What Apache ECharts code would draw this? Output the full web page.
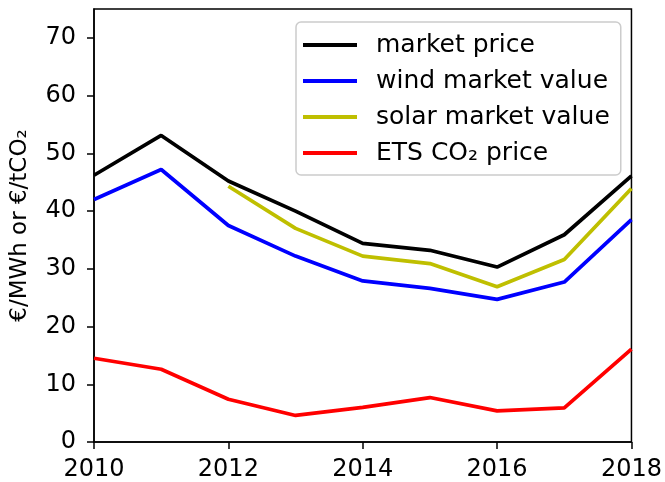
<!DOCTYPE html>
<html lang="en">
<head>
    <meta charset="UTF-8">
    <title>market values</title>
    <script src="https://cdn.jsdelivr.net/npm/echarts@6/dist/echarts.min.js"></script>
    <style>
        html, body {margin: 0; padding: 0; background: #fff;}
    </style>
</head>
<body>
<div id="main" style="width: 665px;height:482px;"></div>
<script>
    var years = [2010, 2011, 2012, 2013, 2014, 2015, 2016, 2017, 2018];
    var marketPrice = [46.2, 53.1, 45.2, 40.0, 34.4, 33.2, 30.3, 35.9, 46.1];
    var windValue = [42.0, 47.2, 37.5, 32.2, 27.9, 26.6, 24.7, 27.7, 38.5];
    var solarValue = [null, null, 44.3, 37.0, 32.2, 30.9, 26.9, 31.6, 43.9];
    var etsPrice = [14.5, 12.6, 7.4, 4.6, 6.0, 7.7, 5.4, 5.9, 16.1];
    var seriesNames = ['market price', 'wind market value', 'solar market value', 'ETS CO₂ price'];

    function pairs(vals) {
        var out = [];
        for (var i = 0; i < years.length; i++) {
            if (vals[i] !== null) out.push([years[i], vals[i]]);
        }
        return out;
    }

    function line(name, color, vals) {
        return {
            name: name,
            type: 'line',
            data: pairs(vals),
            symbol: 'none',
            lineStyle: {color: color, width: 3.7},
            itemStyle: {color: color},
            animation: false
        };
    }

    var font = 'DejaVu Sans';
    var myChart = echarts.init(document.getElementById('main'));
    var option = {
        animation: false,
        grid: {
            left: 94, right: 33, top: 9, bottom: 39,
            show: true, borderColor: '#000', borderWidth: 1.5
        },
        legend: {
            left: 296, top: 22,
            orient: 'vertical',
            data: seriesNames,
            icon: 'rect',
            itemWidth: 54, itemHeight: 4,
            itemGap: 10,
            padding: [10, 11, 9, 7],
            borderColor: '#ccc', borderWidth: 1.5, borderRadius: 5,
            backgroundColor: '#fff',
            textStyle: {fontFamily: font, fontSize: 25, color: '#000', lineHeight: 26, padding: [0, 0, 0, 14]}
        },
        xAxis: {
            type: 'value', min: 2010, max: 2018, interval: 2,
            axisLine: {show: true, lineStyle: {color: '#000', width: 1.5}},
            axisTick: {show: true, length: 7, lineStyle: {color: '#000', width: 1.5}},
            splitLine: {show: false},
            axisLabel: {
                fontFamily: font, fontSize: 24, color: '#000', margin: 16,
                formatter: function (v) { return String(v); }
            }
        },
        yAxis: {
            type: 'value', min: 0, max: 75, interval: 10,
            name: '€/MWh or €/tCO₂',
            nameLocation: 'middle', nameGap: 62,
            nameTextStyle: {fontFamily: font, fontSize: 23, color: '#000'},
            axisLine: {show: true, lineStyle: {color: '#000', width: 1.5}},
            axisTick: {show: true, length: 7, lineStyle: {color: '#000', width: 1.5}},
            splitLine: {show: false},
            axisLabel: {fontFamily: font, fontSize: 24, color: '#000', margin: 18, showMaxLabel: false}
        },
        series: [
            line(seriesNames[0], '#000000', marketPrice),
            line(seriesNames[1], '#0000ff', windValue),
            line(seriesNames[2], '#bfbf00', solarValue),
            line(seriesNames[3], '#ff0000', etsPrice)
        ]
    };
    myChart.setOption(option);
</script>
</body>
</html>
